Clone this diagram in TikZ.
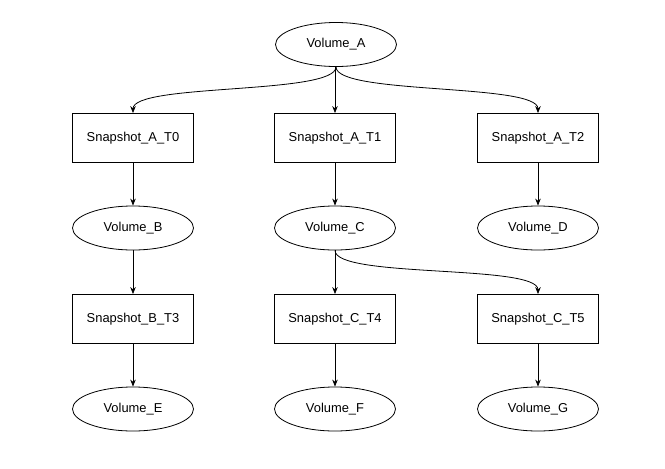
\documentclass[tikz,border=0pt]{standalone}
\usepackage{fontspec}
\setmainfont{Liberation Sans}
\usetikzlibrary{shapes.geometric,arrows.meta}
\begin{document}
\begin{tikzpicture}[x=1pt,y=-1pt,
  vol/.style={ellipse,draw,line width=0.8pt,minimum width=121pt,minimum height=44pt,inner sep=0pt,font=\fontsize{12.9}{14}\selectfont},
  snap/.style={rectangle,draw,line width=0.8pt,minimum width=121pt,minimum height=49pt,inner sep=0pt,font=\fontsize{12.9}{14}\selectfont},
  conn/.style={draw,line width=0.8pt,-{Stealth[length=7pt,width=5.5pt]}}]
\useasboundingbox (0,0) rectangle (665,469);
\node[vol] (va) at (336,44.5) {Volume\_A};
\node[snap] (s0) at (133,138) {Snapshot\_A\_T0};
\node[snap] (s1) at (335,138) {Snapshot\_A\_T1};
\node[snap] (s2) at (538,138) {Snapshot\_A\_T2};
\node[vol] (vb) at (133,228) {Volume\_B};
\node[vol] (vc) at (335,228) {Volume\_C};
\node[vol] (vd) at (538,228) {Volume\_D};
\node[snap] (s3) at (133,319) {Snapshot\_B\_T3};
\node[snap] (s4) at (335,319) {Snapshot\_C\_T4};
\node[snap] (s5) at (538,319) {Snapshot\_C\_T5};
\node[vol] (ve) at (133,409) {Volume\_E};
\node[vol] (vf) at (335,409) {Volume\_F};
\node[vol] (vg) at (538,409) {Volume\_G};
\draw[conn] (va.south) .. controls +(0,28) and +(0,-30) .. (s0.north);
\draw[conn] (s1.north |- va.south) -- (s1.north);
\draw[conn] (va.south) .. controls +(0,28) and +(0,-30) .. (s2.north);
\draw[conn] (s0) -- (vb);
\draw[conn] (s1) -- (vc);
\draw[conn] (s2) -- (vd);
\draw[conn] (vb) -- (s3);
\draw[conn] (vc) -- (s4);
\draw[conn] (vc.south) .. controls +(0,28) and +(0,-30) .. (s5.north);
\draw[conn] (s3) -- (ve);
\draw[conn] (s4) -- (vf);
\draw[conn] (s5) -- (vg);
\end{tikzpicture}
\end{document}
